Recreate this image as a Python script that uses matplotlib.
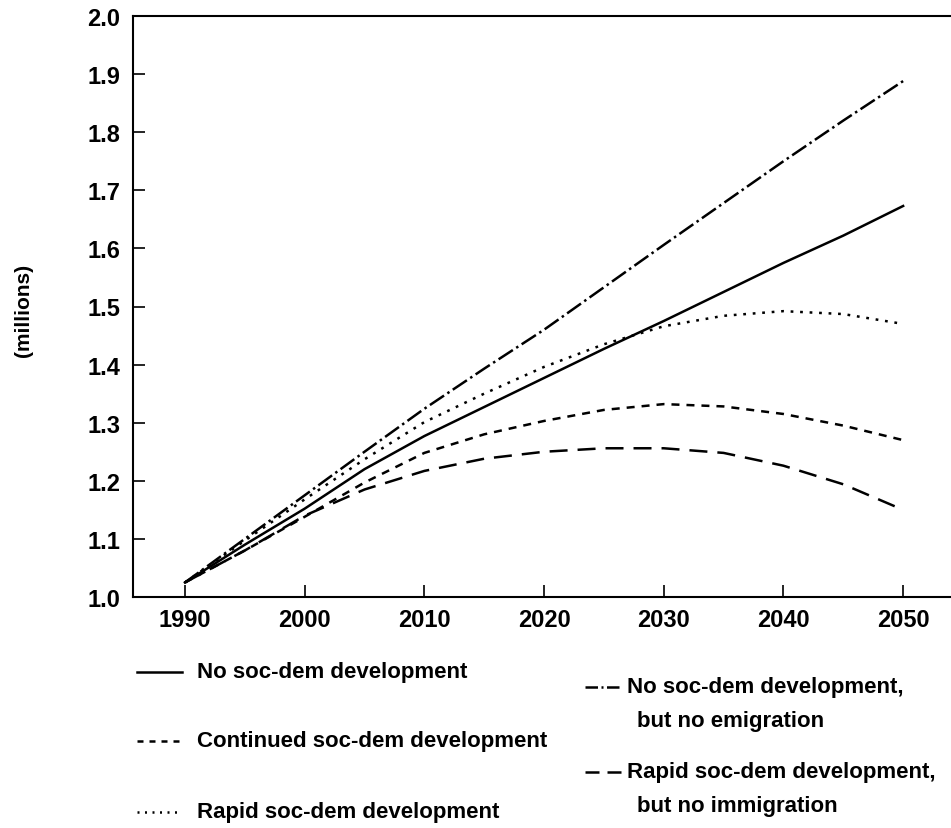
import matplotlib
matplotlib.use("Agg")
import matplotlib.pyplot as plt
from matplotlib.lines import Line2D

# ----------------------------
# Data (millions)
# ----------------------------
years = [1990, 1995, 2000, 2005, 2010, 2015, 2020, 2025, 2030, 2035, 2040, 2045, 2050]

no_dev        = [1.025, 1.090, 1.152, 1.220, 1.277, 1.327, 1.377, 1.427, 1.475, 1.525, 1.575, 1.622, 1.673]
continued_dev = [1.025, 1.080, 1.138, 1.197, 1.248, 1.280, 1.303, 1.322, 1.332, 1.328, 1.315, 1.295, 1.270]
rapid_dev     = [1.025, 1.097, 1.168, 1.237, 1.301, 1.350, 1.396, 1.435, 1.466, 1.484, 1.492, 1.487, 1.470]
no_emig       = [1.025, 1.100, 1.175, 1.250, 1.324, 1.393, 1.460, 1.533, 1.606, 1.678, 1.750, 1.820, 1.888]
rapid_no_imm  = [1.025, 1.080, 1.140, 1.185, 1.217, 1.238, 1.250, 1.256, 1.256, 1.248, 1.226, 1.194, 1.150]

x_ticks = [1990, 2000, 2010, 2020, 2030, 2040, 2050]
y_ticks = [1.0, 1.1, 1.2, 1.3, 1.4, 1.5, 1.6, 1.7, 1.8, 1.9, 2.0]

# ----------------------------
# Styles
# ----------------------------
LW = 1.8
STYLES = {
    "solid":    dict(linestyle="-"),
    "short":    dict(linestyle=(0, (3.2, 2.8))),
    "dotted":   dict(linestyle=(0, (1.1, 2.7))),
    "dashdot":  dict(linestyle=(0, (6.8, 1.6, 1.0, 1.6))),
    "long":     dict(linestyle=(0, (7.2, 4.0))),
}
# legend keys use slightly different dash phases so they look like the printed key
KEY_STYLES = {
    "solid":    dict(linestyle="-"),
    "short":    dict(linestyle=(0, (2.4, 2.4))),
    "dotted":   dict(linestyle=(0, (0.8, 2.2))),
    "dashdot":  dict(linestyle=(0, (5.0, 1.4, 0.8, 1.4))),
    "long":     dict(linestyle=(0, (5.6, 3.2))),
}

plt.rcParams["font.family"] = ["Liberation Sans", "DejaVu Sans"]

W, H = 951, 829
fig = plt.figure(figsize=(W / 100, H / 100), dpi=100)

# axes box in pixels: left 133, right 951, top 17, bottom 598
ax = fig.add_axes([133 / W, (H - 598) / H, (W - 133) / W, (598 - 17) / H])

series = [
    (no_dev, "solid"),
    (continued_dev, "short"),
    (rapid_dev, "dotted"),
    (no_emig, "dashdot"),
    (rapid_no_imm, "long"),
]
for vals, key in series:
    ax.plot(years, vals, color="black", linewidth=LW, **STYLES[key])

ax.set_xlim(1985.66, 2054.0)
ax.set_ylim(1.0, 2.0)
ax.set_xticks(x_ticks)
ax.set_yticks(y_ticks)
ax.set_xticklabels([str(t) for t in x_ticks], fontsize=17, fontweight="bold")
ax.set_yticklabels([f"{t:.1f}" for t in y_ticks], fontsize=17, fontweight="bold")
ax.tick_params(direction="in", length=8.6, width=1.2, colors="black")
ax.tick_params(axis="x", pad=8)
ax.tick_params(axis="y", pad=9)

ax.spines["right"].set_visible(False)
for side in ("left", "bottom", "top"):
    ax.spines[side].set_linewidth(1.5)

fig.text(23 / W, 1 - 310 / H, "(millions)", rotation=90, ha="center", va="center",
         fontsize=15, fontweight="bold")

# ----------------------------
# Legend (manual, two columns)
# ----------------------------
def fx(px):
    return px / W


def fy(py):
    return 1 - py / H


LEG_FS = 16
left_entries = [
    ("solid", "No soc-dem development", 673),
    ("short", "Continued soc-dem development", 742),
    ("dotted", "Rapid soc-dem development", 813),
]
for key, label, py in left_entries:
    fig.add_artist(Line2D([fx(137), fx(182)], [fy(py), fy(py)], transform=fig.transFigure,
                          color="black", linewidth=LW, **KEY_STYLES[key]))
    fig.text(fx(197), fy(py), label, ha="left", va="center", fontsize=LEG_FS,
             fontweight="bold")

right_entries = [
    ("dashdot", "No soc-dem development,", "but no emigration", 688),
    ("long", "Rapid soc-dem development,", "but no immigration", 773),
]
for key, line1, line2, py in right_entries:
    fig.add_artist(Line2D([fx(585), fx(622)], [fy(py), fy(py)], transform=fig.transFigure,
                          color="black", linewidth=LW, **KEY_STYLES[key]))
    fig.text(fx(627), fy(py), line1, ha="left", va="center", fontsize=LEG_FS,
             fontweight="bold")
    fig.text(fx(637), fy(py + 34), line2, ha="left", va="center", fontsize=LEG_FS,
             fontweight="bold")

fig.savefig("out.png", dpi=100)
